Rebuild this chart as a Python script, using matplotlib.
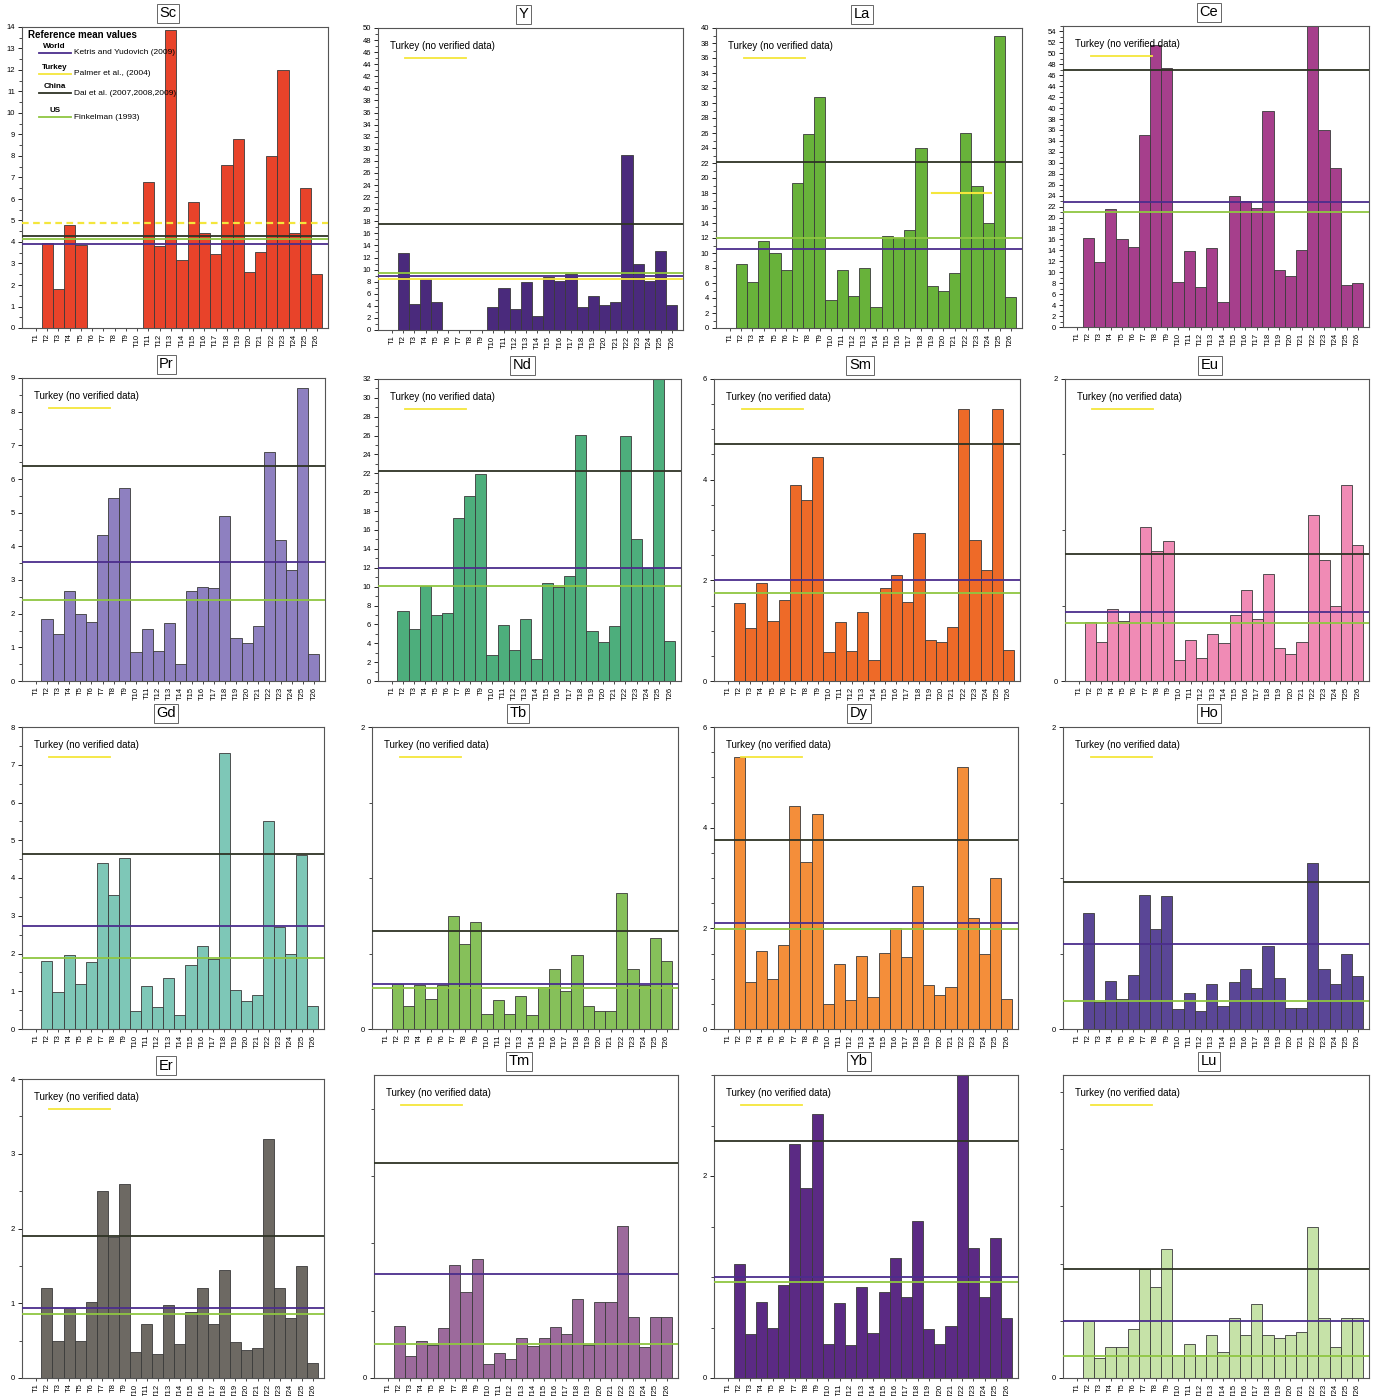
import matplotlib
matplotlib.use("Agg")
import matplotlib.pyplot as plt
from matplotlib.ticker import MultipleLocator
import numpy as np

plt.rcParams["font.family"] = ["Liberation Sans", "DejaVu Sans"]

W, H = 1376, 1396

SAMPLES = ["T1", "T2", "T3", "T4", "T5", "T6", "T7", "T8", "T9", "T10", "T11", "T12", "T13",
           "T14", "T15", "T16", "T17", "T18", "T19", "T20", "T21", "T22", "T23", "T24", "T25", "T26"]

# concentrations per sample (0 = not analysed / no bar)
sc = [0, 3.95, 1.8, 4.8, 3.85, 0, 0, 0, 0, 0, 6.8, 3.8, 13.85, 3.15, 5.85, 4.4, 3.45, 7.6, 8.8,
      2.6, 3.55, 8.0, 12.0, 4.4, 6.5, 2.5]
y = [0, 12.7, 4.3, 8.4, 4.7, 0, 0, 0, 0, 3.8, 7.0, 3.4, 7.9, 2.4, 8.8, 8.1, 9.3, 3.8, 5.7, 4.1,
     4.6, 29.0, 11.0, 8.1, 13.0, 4.1]
la = [0, 8.6, 6.1, 11.6, 10.0, 7.8, 19.3, 25.9, 30.8, 3.8, 7.8, 4.3, 8.0, 2.8, 12.3, 12.0, 13.1,
      24.0, 5.6, 5.0, 7.3, 26.0, 19.0, 14.0, 39.0, 4.2]
ce = [0, 16.2, 11.9, 21.5, 16.0, 14.7, 35.0, 51.5, 47.3, 8.3, 13.9, 7.4, 14.5, 4.6, 24.0, 23.0,
      21.7, 39.4, 10.4, 9.3, 14.1, 55.0, 36.0, 29.0, 7.7, 8.1]
pr = [0, 1.83, 1.4, 2.67, 2.0, 1.75, 4.35, 5.45, 5.73, 0.87, 1.55, 0.89, 1.73, 0.5, 2.68, 2.8,
      2.75, 4.9, 1.28, 1.12, 1.63, 6.8, 4.2, 3.3, 8.7, 0.8]
nd = [0, 7.4, 5.5, 10.1, 7.0, 7.2, 17.3, 19.6, 21.9, 2.8, 5.9, 3.3, 6.6, 2.3, 10.4, 10.0, 11.1,
      26.1, 5.3, 4.1, 5.8, 26.0, 15.0, 12.0, 32.0, 4.2]
sm = [0, 1.55, 1.05, 1.95, 1.2, 1.6, 3.9, 3.6, 4.45, 0.57, 1.17, 0.6, 1.38, 0.42, 1.85, 2.1,
      1.57, 2.95, 0.82, 0.77, 1.08, 5.4, 2.8, 2.2, 5.4, 0.62]
eu = [0, 0.39, 0.26, 0.48, 0.40, 0.46, 1.02, 0.86, 0.93, 0.14, 0.27, 0.15, 0.31, 0.25, 0.44,
      0.60, 0.41, 0.71, 0.22, 0.18, 0.26, 1.10, 0.80, 0.50, 1.30, 0.90]
gd = [0, 1.79, 0.99, 1.95, 1.2, 1.77, 4.39, 3.55, 4.52, 0.49, 1.15, 0.59, 1.36, 0.36, 1.70, 2.2,
      1.85, 7.32, 1.04, 0.75, 0.9, 5.5, 2.71, 2.0, 4.61, 0.62]
tb = [0, 0.30, 0.15, 0.29, 0.20, 0.29, 0.75, 0.56, 0.71, 0.10, 0.19, 0.10, 0.22, 0.09, 0.28,
      0.40, 0.25, 0.49, 0.15, 0.12, 0.12, 0.90, 0.40, 0.29, 0.60, 0.45]
dy = [0, 5.40, 0.94, 1.54, 1.0, 1.66, 4.43, 3.31, 4.28, 0.49, 1.30, 0.57, 1.46, 0.64, 1.51, 2.0,
      1.44, 2.85, 0.88, 0.67, 0.84, 5.21, 2.20, 1.50, 3.0, 0.60]
ho = [0, 0.77, 0.18, 0.32, 0.20, 0.36, 0.89, 0.66, 0.88, 0.13, 0.24, 0.12, 0.30, 0.15, 0.31,
      0.40, 0.27, 0.55, 0.34, 0.14, 0.14, 1.10, 0.40, 0.30, 0.50, 0.35]
er = [0, 1.2, 0.5, 0.93, 0.5, 1.02, 2.5, 1.88, 2.6, 0.35, 0.72, 0.32, 0.98, 0.45, 0.88, 1.2,
      0.72, 1.45, 0.48, 0.38, 0.4, 3.2, 1.2, 0.8, 1.5, 0.2]
tm = [0, 0.154, 0.065, 0.11, 0.098, 0.148, 0.335, 0.255, 0.353, 0.042, 0.074, 0.056, 0.119,
      0.095, 0.119, 0.151, 0.131, 0.234, 0.098, 0.226, 0.226, 0.451, 0.181, 0.092, 0.181, 0.181]
yb = [0, 1.13, 0.44, 0.75, 0.5, 0.92, 2.32, 1.88, 2.61, 0.34, 0.74, 0.33, 0.9, 0.45, 0.85, 1.19,
      0.8, 1.55, 0.49, 0.34, 0.51, 3.0, 1.29, 0.8, 1.39, 0.59]
lu = [0, 0.20, 0.07, 0.11, 0.11, 0.17, 0.38, 0.32, 0.45, 0.08, 0.12, 0.08, 0.15, 0.09, 0.21,
      0.15, 0.26, 0.15, 0.14, 0.15, 0.16, 0.53, 0.21, 0.11, 0.21, 0.21]

# reference mean values: World (Ketris & Yudovich), China (Dai et al.), US (Finkelman)
ref_world = {"Sc": 3.9, "Y": 9.0, "La": 10.6, "Ce": 22.9, "Pr": 3.53, "Nd": 12.0, "Sm": 2.0,
             "Eu": 0.455, "Gd": 2.72, "Tb": 0.297, "Dy": 2.10, "Ho": 0.56, "Er": 0.93,
             "Tm": 0.31, "Yb": 1.0, "Lu": 0.20}
ref_china = {"Sc": 4.3, "Y": 17.5, "La": 22.2, "Ce": 47.0, "Pr": 6.4, "Nd": 22.2, "Sm": 4.7,
             "Eu": 0.84, "Gd": 4.63, "Tb": 0.65, "Dy": 3.76, "Ho": 0.975, "Er": 1.9,
             "Tm": 0.64, "Yb": 2.35, "Lu": 0.38}
ref_us = {"Sc": 4.15, "Y": 9.5, "La": 12.0, "Ce": 21.0, "Pr": 2.42, "Nd": 10.1, "Sm": 1.75,
          "Eu": 0.385, "Gd": 1.87, "Tb": 0.27, "Dy": 1.98, "Ho": 0.185, "Er": 0.85,
          "Tm": 0.10, "Yb": 0.95, "Lu": 0.077}
ref_turkey = {"Sc": 4.9, "Y": 8.5, "La": 18.0}

BAR_COLORS = {"Sc": "#e8432a", "Y": "#4a2a7c", "La": "#68b23a", "Ce": "#a63f8c",
              "Pr": "#8e80c0", "Nd": "#4dae7c", "Sm": "#ee6a28", "Eu": "#f08bb5",
              "Gd": "#7ec7b7", "Tb": "#86c05a", "Dy": "#f48e3a", "Ho": "#5a4696",
              "Er": "#6d6963", "Tm": "#9c6a9c", "Yb": "#5b2a84", "Lu": "#c6e2a8"}
C_WORLD = "#4b2d8c"
C_CHINA = "#2e3324"
C_US = "#8fc641"
C_TURKEY = "#f4e63c"

# element, data, ymax, label step, minor step, axes box (left, top, right, bottom) in px
PANELS = [
    ("Sc", sc, 14, 1, 0.5, (22, 27, 328, 328)),
    ("Y", y, 50, 2, 1, (378, 28, 683, 330)),
    ("La", la, 40, 2, 1, (716, 28, 1022, 328)),
    ("Ce", ce, 55, 2, 1, (1063, 26, 1369, 327)),
    ("Pr", pr, 9, 1, 0.5, (22, 378, 325, 681)),
    ("Nd", nd, 32, 2, 1, (378, 379, 681, 681)),
    ("Sm", sm, 6, 2, 0.5, (714, 379, 1020, 681)),
    ("Eu", eu, 2, 2, 0.5, (1065, 379, 1369, 681)),
    ("Gd", gd, 8, 1, 0.5, (22, 727, 324, 1029)),
    ("Tb", tb, 2, 2, 0.5, (372, 727, 678, 1029)),
    ("Dy", dy, 6, 2, 0.5, (714, 727, 1018, 1029)),
    ("Ho", ho, 2, 2, 0.5, (1063, 727, 1369, 1029)),
    ("Er", er, 4, 1, 0.5, (22, 1079, 324, 1378)),
    ("Tm", tm, 0.9, 2, 0.2, (374, 1075, 678, 1378)),
    ("Yb", yb, 3, 2, 0.5, (714, 1075, 1018, 1378)),
    ("Lu", lu, 1.06, 2, 0.2, (1063, 1075, 1369, 1378)),
]

fig = plt.figure(figsize=(W / 100, H / 100), dpi=100)
fig.patch.set_facecolor("white")

x = np.arange(len(SAMPLES))

for name, vals, ymax, step, minor, (l, t, r, b) in PANELS:
    ax = fig.add_axes([l / W, 1 - b / H, (r - l) / W, (b - t) / H])
    ax.bar(x, vals, width=1.0, color=BAR_COLORS[name], edgecolor="#3a3a3a", linewidth=0.6,
           zorder=2)
    ax.set_xlim(-1.25, 26.0)
    ax.set_ylim(0, ymax)

    ax.axhline(ref_china[name], color=C_CHINA, lw=1.3, zorder=3)
    ax.axhline(ref_world[name], color=C_WORLD, lw=1.3, zorder=3)
    ax.axhline(ref_us[name], color=C_US, lw=1.3, zorder=3)
    if name == "Sc":
        ax.axhline(ref_turkey[name], color=C_TURKEY, lw=1.6, ls=(0, (3, 2)), zorder=3)
    elif name == "Y":
        ax.axhline(ref_turkey[name], color=C_TURKEY, lw=1.3, zorder=3)
    elif name == "La":
        ax.plot([18.0, 23.2], [ref_turkey[name]] * 2, color=C_TURKEY, lw=1.5, zorder=3)

    ax.set_xticks(x)
    ax.set_xticklabels(SAMPLES, rotation=90, fontsize=5.5)
    ax.yaxis.set_major_locator(MultipleLocator(step))
    ax.yaxis.set_minor_locator(MultipleLocator(minor))
    ax.tick_params(axis="y", which="major", labelsize=5.5, length=3, width=0.6, pad=2)
    ax.tick_params(axis="y", which="minor", length=2, width=0.5)
    ax.tick_params(axis="x", length=2, width=0.5, pad=2)
    for sp in ax.spines.values():
        sp.set_color("#555555")
        sp.set_linewidth(0.8)

    ax.text(0.477, 1.045, name, transform=ax.transAxes, ha="center", va="center",
            fontsize=10.5, bbox=dict(boxstyle="square,pad=0.18", fc="white", ec="#666666",
                                     lw=0.7))

    if name == "Sc":
        ax.text(0.02, 0.975, "Reference mean values", transform=ax.transAxes,
                fontsize=7, fontweight="bold", va="center")
        legend_rows = [("World", C_WORLD, "Ketris and Yudovich (2009)", 0.925),
                       ("Turkey", C_TURKEY, "Palmer et al., (2004)", 0.855),
                       ("China", C_CHINA, "Dai et al. (2007,2008,2009)", 0.79),
                       ("US", C_US, "Finkelman (1993)", 0.71)]
        for lab, col, ref, yy in legend_rows:
            ax.plot([0.055, 0.16], [yy - 0.01, yy - 0.01], color=col, lw=1.3,
                    transform=ax.transAxes, zorder=4)
            ax.text(0.107, yy, lab, transform=ax.transAxes, ha="center", va="bottom",
                    fontsize=5.8, fontweight="bold")
            ax.text(0.17, yy - 0.01, ref, transform=ax.transAxes, va="center", fontsize=6)
    else:
        ax.text(0.04, 0.94, "Turkey (no verified data)", transform=ax.transAxes,
                fontsize=7, va="center")
        ax.plot([0.09, 0.29], [0.9, 0.9], color=C_TURKEY, lw=1.3,
                transform=ax.transAxes)

fig.savefig("out.png", dpi=100, facecolor="white")
